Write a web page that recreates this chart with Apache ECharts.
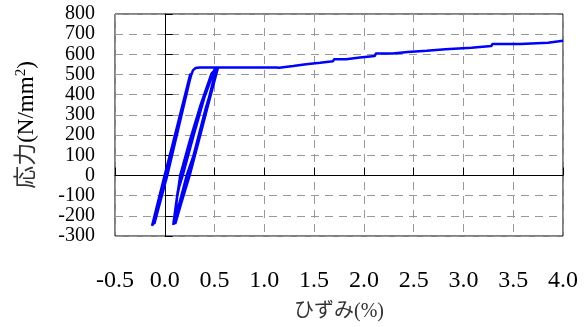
<!DOCTYPE html>
<html>
<head>
<meta charset="utf-8">
<script src="https://cdn.jsdelivr.net/npm/echarts@6/dist/echarts.min.js"></script>
<style>
  html, body { margin: 0; padding: 0; background: #fff; }
  #chart { width: 585px; height: 327px; }
</style>
</head>
<body>
<div id="chart"></div>
<script>
// Cyclic loading inside the elastic range, then first yielding onto the plateau
var elasticStrain = [0, 0.255, 0.005, -0.12, 0.01, 0.262, -0.002, -0.128, 0.015, 0.258, 0.02, -0.105, 0.025, 0.25, 0.268, 0.285, 0.31, 0.35, 0.535];
var elasticStress = [0, 500, 0, -245, 0, 505, 0, -250, 0, 495, 0, -240, 0, 470, 502, 522, 532, 535, 535];

// Unloading / reloading cycles after yielding
var reversedStrain = [0.43, 0.33, 0.25, 0.17, 0.105, 0.09, 0.12, 0.155, 0.25, 0.36, 0.47, 0.52,
                      0.525, 0.40, 0.29, 0.22, 0.14, 0.085, 0.075, 0.13, 0.18, 0.29, 0.40, 0.50, 0.535,
                      0.53, 0.41, 0.31, 0.235, 0.15, 0.095, 0.08, 0.125, 0.17, 0.27, 0.38, 0.49, 0.535];
var reversedStress = [340, 150, 0, -130, -240, -248, -120, 0, 170, 350, 505, 532,
                      532, 300, 100, 0, -150, -245, -247, -80, 0, 200, 390, 525, 535,
                      535, 330, 140, 0, -140, -240, -245, -100, 0, 180, 370, 515, 535];

// Yield plateau and stepwise strain hardening up to 4 %
var hardeningStrain = [1.12, 1.14, 1.15, 1.16, 1.17, 1.29, 1.30, 1.42, 1.43, 1.56, 1.57, 1.69, 1.70, 1.82, 1.83, 1.96, 1.97, 2.11, 2.12, 2.29, 2.30, 2.44, 2.45, 2.63, 2.64, 2.82, 2.83, 3.08, 3.09, 3.28, 3.29, 3.57, 3.58, 3.85, 3.86, 4.0];
var hardeningStress = [535, 538, 534, 537, 542, 542, 551, 551, 558, 558, 566, 566, 576, 576, 584, 584, 592, 592, 604, 604, 612, 612, 618, 618, 625, 625, 633, 633, 641, 641, 651, 651, 658, 658, 667, 667];

var xTicks = { min: -0.5, max: 4.0, interval: 0.5 };
var yTicks = { min: -300, max: 800, interval: 100 };

var strain = elasticStrain.concat(reversedStrain, hardeningStrain);
var stress = elasticStress.concat(reversedStress, hardeningStress);
var points = strain.map(function (s, i) { return [s, stress[i]]; });

var serif = "'Liberation Serif', 'Times New Roman', 'Noto Sans CJK JP', serif";
var gridLine = { show: true, lineStyle: { color: '#999', width: 1, type: [8, 6] } };

var chart = echarts.init(document.getElementById('chart'), null, { renderer: 'canvas' });
chart.setOption({
  animation: false,
  backgroundColor: '#fff',
  grid: {
    left: 115, right: 22, top: 14, bottom: 89,
    show: true, borderColor: '#000', borderWidth: 1,
    containLabel: false
  },
  xAxis: [
    { // axis line through stress = 0 with inward ticks
      type: 'value', min: xTicks.min, max: xTicks.max, interval: xTicks.interval,
      position: 'bottom',
      axisLine: { show: true, onZero: true, lineStyle: { color: '#000', width: 1 } },
      axisTick: { show: true, inside: true, length: 8, lineStyle: { color: '#000' } },
      axisLabel: { show: false },
      splitLine: gridLine
    },
    { // tick labels and title along the bottom of the plot
      type: 'value', min: xTicks.min, max: xTicks.max, interval: xTicks.interval,
      position: 'bottom',
      axisLine: { show: false, onZero: false },
      axisTick: { show: false },
      splitLine: { show: false },
      axisLabel: {
        show: true, margin: 33, color: '#000', fontSize: 24, fontFamily: serif,
        formatter: function (v) { return v.toFixed(1); }
      },
      name: 'ひずみ(%)',
      nameLocation: 'middle',
      nameGap: 66,
      nameTextStyle: { color: '#333', fontSize: 20, fontFamily: serif }
    }
  ],
  yAxis: [
    { // axis line through strain = 0 with inward ticks
      type: 'value', min: yTicks.min, max: yTicks.max, interval: yTicks.interval,
      position: 'left',
      axisLine: { show: true, onZero: true, lineStyle: { color: '#000', width: 1 } },
      axisTick: { show: true, inside: true, length: 8, lineStyle: { color: '#000' } },
      axisLabel: { show: false },
      splitLine: gridLine
    },
    { // tick labels and title along the left of the plot
      type: 'value', min: yTicks.min, max: yTicks.max, interval: yTicks.interval,
      position: 'left',
      axisLine: { show: false, onZero: false },
      axisTick: { show: false },
      splitLine: { show: false },
      axisLabel: { show: true, margin: 20, color: '#000', fontSize: 20, fontFamily: serif },
      name: '{c|応力}{a|(N/mm}{s|2}{a|)}',
      nameLocation: 'middle',
      nameGap: 76,
      nameTextStyle: {
        fontFamily: serif,
        rich: {
          c: { color: '#333', fontSize: 23, fontFamily: serif },
          a: { color: '#000', fontSize: 23, fontFamily: serif },
          s: { color: '#000', fontSize: 15, fontFamily: serif, verticalAlign: 'top', padding: [0, 0, 10, 0] }
        }
      }
    }
  ],
  series: [{
    type: 'line',
    xAxisIndex: 0,
    yAxisIndex: 0,
    data: points,
    showSymbol: false,
    symbol: 'none',
    lineStyle: { color: '#0000ff', width: 2.5 },
    z: 5
  }]
});
</script>
</body>
</html>
